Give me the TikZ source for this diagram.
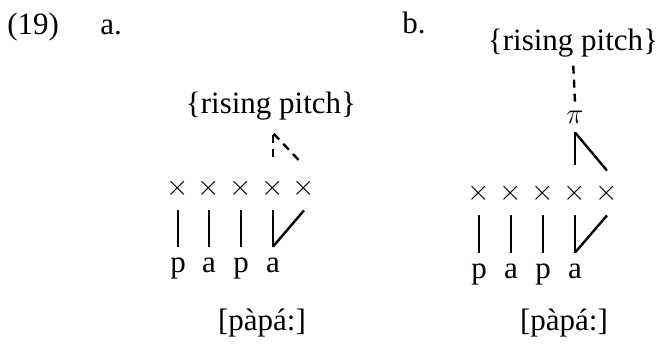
\documentclass[tikz,border=0pt]{standalone}
\usepackage{fontspec}
\setmainfont{Liberation Serif}
\usepackage{tikz}

\begin{document}
\begin{tikzpicture}[x=0.5pt, y=-0.5pt, font=\fontsize{15.5}{18}\selectfont,
  slot/.style={inner sep=0pt, minimum height=22pt},
  seg/.style={inner sep=0pt, anchor=base, text height=12.5pt, text depth=3pt},
  tone/.style={inner sep=0pt, anchor=base, text depth=5pt},
  assoc/.style={line width=1.2pt},
  float/.style={line width=1.2pt, dash pattern=on 4pt off 3pt}]
  \useasboundingbox (0,0) rectangle (660,350);
  % Example number and sub-labels
  \node[inner sep=0pt, anchor=base west] (num) at (7,34) {(19)};
  \node[inner sep=0pt, anchor=base west] (la) at (100,34) {a.};
  \node[inner sep=0pt, anchor=base west] (lb) at (402,33) {b.};
  % (a) skeleton slots and segments
  \node[slot] (xa1) at (178,188) {$\times$};
  \node[slot] (xa2) at (209,188) {$\times$};
  \node[slot] (xa3) at (241,188) {$\times$};
  \node[slot] (xa4) at (273,188) {$\times$};
  \node[slot] (xa5) at (304,188) {$\times$};
  \node[seg] (sa1) at (178,272) {p};
  \node[seg] (sa2) at (209,272) {a};
  \node[seg] (sa3) at (241,272) {p};
  \node[seg] (sa4) at (273,272) {a};
  \draw[assoc] (xa1.south) -- (sa1.north);
  \draw[assoc] (xa2.south) -- (sa2.north);
  \draw[assoc] (xa3.south) -- (sa3.north);
  \draw[assoc] (xa4.south) -- (sa4.north);
  \draw[assoc] (xa5.south) -- (sa4.north);
  % (a) floating tone
  \node[tone] (ta) at (271,113) {\{rising pitch\}};
  \coordinate (ra) at (273,133);
  \draw[float, shorten <=4.5pt] (xa4.north) -- (ra);
  \draw[float, shorten <=4pt] (xa5.north) -- (ra);
  \node[inner sep=0pt, anchor=base] (pa) at (262,330) {[pàpá:]};
  % (b) skeleton slots and segments
  \node[slot] (xb1) at (479,193) {$\times$};
  \node[slot] (xb2) at (511,193) {$\times$};
  \node[slot] (xb3) at (543,193) {$\times$};
  \node[slot] (xb4) at (575,193) {$\times$};
  \node[slot] (xb5) at (607,193) {$\times$};
  \node[seg] (sb1) at (479,278) {p};
  \node[seg] (sb2) at (511,278) {a};
  \node[seg] (sb3) at (543,278) {p};
  \node[seg] (sb4) at (575,278) {a};
  \draw[assoc] (xb1.south) -- (sb1.north);
  \draw[assoc] (xb2.south) -- (sb2.north);
  \draw[assoc] (xb3.south) -- (sb3.north);
  \draw[assoc] (xb4.south) -- (sb4.north);
  \draw[assoc] (xb5.south) -- (sb4.north);
  % (b) pitch node linked to the tone
  \node[inner sep=0pt, minimum height=15pt] (pb) at (575,117) {$\pi$};
  \draw[assoc, shorten >=3pt] (pb.south) -- (xb4.north);
  \draw[assoc] (pb.south) -- (xb5.north);
  \node[tone] (tb) at (573,50) {\{rising pitch\}};
  \draw[float, shorten >=0pt] (pb.north) -- (tb.south);
  \node[inner sep=0pt, anchor=base] (pbb) at (564,330) {[pàpá:]};
\end{tikzpicture}
\end{document}
